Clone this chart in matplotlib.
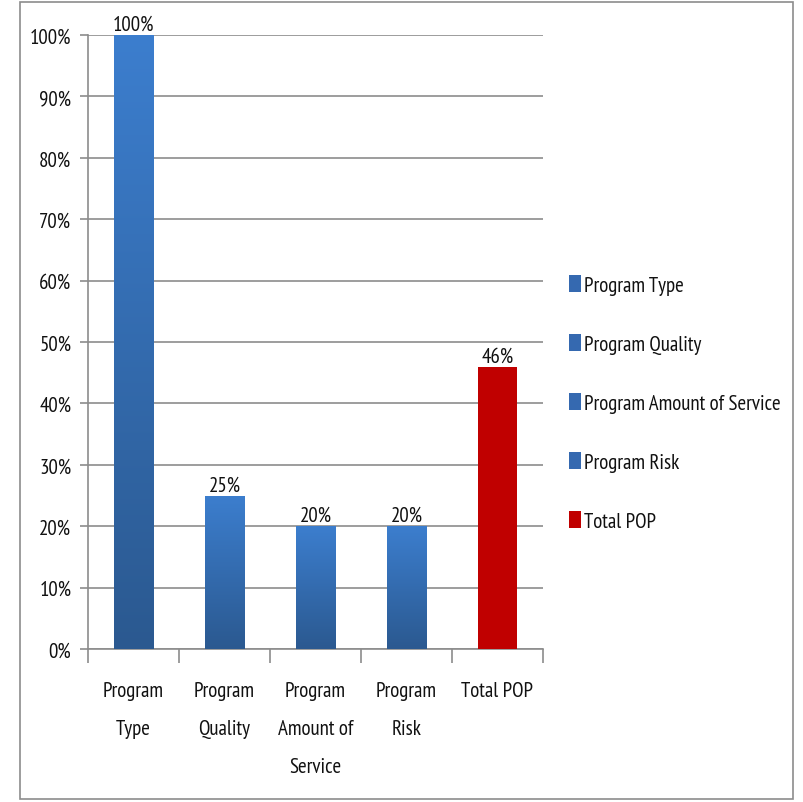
import matplotlib
matplotlib.use("Agg")
import matplotlib.pyplot as plt
import numpy as np
from matplotlib.patches import Rectangle
from matplotlib.ticker import MultipleLocator, PercentFormatter
from matplotlib import font_manager

categories = ["Program\nType", "Program\nQuality", "Program\nAmount of\nService", "Program\nRisk", "Total POP"]
legend_labels = ["Program Type", "Program Quality", "Program Amount of Service", "Program Risk", "Total POP"]
values = [100, 25, 20, 20, 46]
value_labels = ["100%", "25%", "20%", "20%", "46%"]
kinds = ["blue", "blue", "blue", "blue", "red"]

names = {f.name for f in font_manager.fontManager.ttflist}
cands = ['PT Sans Narrow', 'Fira Sans Condensed', 'Open Sans Condensed', 'Roboto Condensed',
         'Archivo Narrow', 'Asap Condensed', 'Encode Sans Condensed', 'Carlito']
fam = next((c for c in cands if c in names), 'DejaVu Sans')
plt.rcParams['font.family'] = [fam, 'DejaVu Sans']

FS = 15
TXT = '#111111'
fig = plt.figure(figsize=(8.04, 8.03), dpi=100)
ax = fig.add_axes([88/804, 1-650/803, (543-88)/804, (650-36)/803])

x = np.arange(len(values))
width = 0.43
bars = ax.bar(x, values, width=width, color='none', edgecolor='none', zorder=3)

top_c = np.array([0x3C, 0x7E, 0xCE]) / 255
bot_c = np.array([0x2B, 0x59, 0x90]) / 255
grad = np.linspace(0, 1, 256)[:, None]
for b, k in zip(bars, kinds):
    x0, y0 = b.get_x(), b.get_y()
    w, h = b.get_width(), b.get_height()
    if k == "red":
        ax.add_patch(Rectangle((x0, y0), w, h, facecolor='#C00000', edgecolor='none', zorder=3))
    else:
        img = top_c[None, None, :] * (1 - grad[:, :, None]) + bot_c[None, None, :] * grad[:, :, None]
        im = ax.imshow(img, extent=(x0, x0 + w, y0, y0 + h), aspect='auto', zorder=3, origin='upper')
        im.set_clip_path(b)

for xi, v, lab in zip(x, values, value_labels):
    ax.text(xi, v + 0.2, lab, ha='center', va='bottom', fontsize=FS, color=TXT)

ax.set_xlim(-0.5, len(values) - 0.5)
ax.set_ylim(0, 100)
ax.yaxis.set_major_locator(MultipleLocator(10))
ax.yaxis.set_major_formatter(PercentFormatter(decimals=0))
ax.grid(axis='y', color='#8c8c8c', linewidth=1.2, zorder=0)
ax.set_axisbelow(True)
for s in ['top', 'right']:
    ax.spines[s].set_visible(False)
for s in ['left', 'bottom']:
    ax.spines[s].set_color('#8c8c8c')
    ax.spines[s].set_linewidth(1.2)

ax.set_xticks(x)
ax.set_xticklabels(categories, fontsize=FS, linespacing=2.27, va='top', color=TXT)
ax.tick_params(axis='x', length=0, pad=23)
ax.set_xticks(np.arange(-0.5, len(values)), minor=True)
ax.tick_params(axis='x', which='minor', length=10, color='#8c8c8c', width=1.2)
ax.tick_params(axis='y', length=6, color='#8c8c8c', width=1.2, labelsize=FS, pad=6, labelcolor=TXT)

handles = []
for k in kinds:
    c = '#C00000' if k == 'red' else '#3569B0'
    handles.append(Rectangle((0, 0), 1, 1, facecolor=c, edgecolor='none'))
leg = fig.legend(handles, legend_labels, loc='center left', bbox_to_anchor=(550/804, 1-404/803),
                 frameon=False, handlelength=0.6, handleheight=0.85,
                 handletextpad=0.15, labelspacing=1.9, prop=dict(size=FS))
for t in leg.get_texts():
    t.set_color(TXT)

fig.patches.append(Rectangle((20/804, 0.004), (793-20)/804, 0.992, transform=fig.transFigure,
                             facecolor='none', edgecolor='#8c8c8c', linewidth=1.2))

fig.savefig("out.png", dpi=100)
